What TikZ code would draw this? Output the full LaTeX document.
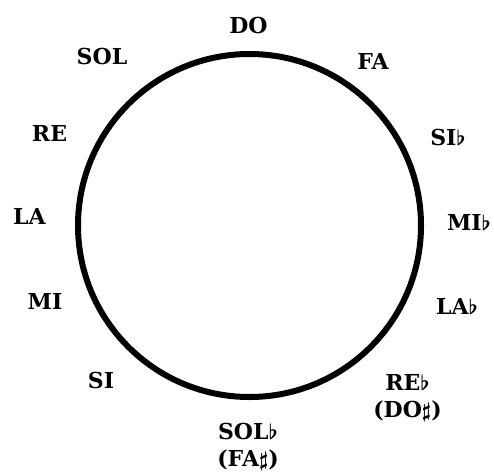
\documentclass[tikz,border=0pt]{standalone}
\usepackage{fontspec}
\setmainfont{DejaVu Serif}
\usepackage{tikz}
\usetikzlibrary{positioning}

\newcommand{\fl}{\ensuremath{\flat}}
\newcommand{\sh}{\ensuremath{\sharp}}

\begin{document}
\begin{tikzpicture}[
  x=1pt, y=-1pt,
  every node/.style={font=\bfseries\boldmath\fontsize{22}{27}\selectfont, inner sep=0pt, align=center},
  note/.style={anchor=center},
  wheel/.style={line width=6pt, black},
]
  \useasboundingbox (0,0) rectangle (494,474);

  % The circle of fifths
  \coordinate (mid) at (249.5,225.5);
  \draw[wheel] (mid) circle[radius=171.5];

  % Left side
  \node[note] (do)   at (248.5,25)  {DO};
  \node[note] (sol)  at (102,56.5)  {SOL};
  \node[note] (re)   at (49.5,133)  {RE};
  \node[note] (la)   at (29.5,216)  {LA};
  \node[note] (mi)   at (45,301)    {MI};
  \node[note] (si)   at (101,380)   {SI};

  % Right side
  \node[note] (fa)   at (373,61)    {FA};
  \node[note] (sib)  at (448,137)   {SI\fl};
  \node[note] (mib)  at (469,222)   {MI\fl};
  \node[note] (lab)  at (457,306)   {LA\fl};
  \node[note] (reb)  at (407.5,398) {RE\fl\\(DO\sh)};
  \node[note] (solb) at (248,447)   {SOL\fl\\(FA\sh)};
\end{tikzpicture}
\end{document}
